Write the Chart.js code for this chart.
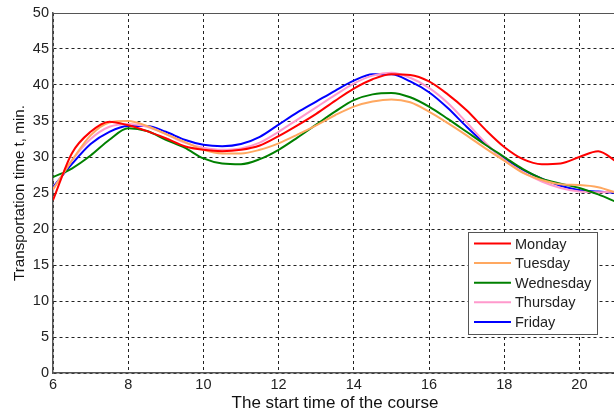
<!DOCTYPE html>
<html>
<head>
<meta charset="utf-8">
<script src="https://cdn.jsdelivr.net/npm/chart.js@4/dist/chart.umd.min.js"></script>
<style>
  html, body { margin: 0; padding: 0; background: #fff; overflow: hidden; }
  #wrap { width: 617px; height: 414px; }
</style>
</head>
<body>
<div id="wrap"><canvas id="chart"></canvas></div>
<script>
// start time of the course (hours)
const hours = [6, 6.5, 7, 7.5, 8, 8.5, 9, 9.5, 10, 10.5, 11, 11.5, 12, 12.5, 13, 13.5,
  14, 14.5, 15, 15.5, 16, 16.5, 17, 17.5, 18, 18.5, 19, 19.5, 20, 20.5, 21];

// transportation time, min.
const monday = [24.0, 30.5, 33.5, 34.9, 34.4, 33.6, 32.6, 31.5, 31.0, 30.8, 31.0, 31.6, 32.9, 34.4, 36.0, 37.8,
  39.5, 40.8, 41.5, 41.4, 40.5, 38.7, 36.5, 33.8, 31.4, 29.7, 29.0, 29.1, 30.0, 30.8, 29.3];
const tuesday = [25.5, 29.5, 33.0, 34.8, 35.0, 34.3, 33.2, 32.1, 31.0, 30.5, 30.5, 31.0, 31.9, 33.1, 34.4, 35.8,
  37.0, 37.7, 38.0, 37.6, 36.3, 34.7, 33.0, 31.2, 29.5, 27.8, 26.8, 26.2, 26.1, 25.8, 25.0];
const wednesday = [27.2, 28.4, 30.2, 32.4, 34.0, 33.6, 32.4, 31.3, 29.8, 29.1, 29.0, 29.7, 31.0, 32.7, 34.5, 36.3,
  37.9, 38.7, 38.9, 38.3, 37.0, 35.3, 33.5, 31.7, 30.0, 28.3, 27.0, 26.3, 25.7, 24.8, 23.7];
const thursday = [25.5, 29.5, 32.5, 34.2, 34.6, 34.2, 33.2, 32.0, 31.3, 31.0, 31.2, 32.0, 33.5, 35.2, 36.9, 38.6,
  40.2, 41.3, 41.7, 41.0, 39.6, 37.5, 34.8, 32.0, 29.6, 27.9, 26.6, 25.7, 25.2, 25.1, 25.2];
const friday = [25.8, 29.0, 31.8, 33.5, 34.3, 34.3, 33.5, 32.4, 31.7, 31.5, 31.8, 32.8, 34.5, 36.2, 37.7, 39.2,
  40.6, 41.5, 41.5, 40.5, 39.0, 36.8, 34.2, 31.8, 29.8, 28.2, 27.0, 26.0, 25.4, 25.2, 25.0];

const xTicks = [6, 8, 10, 12, 14, 16, 18, 20];
const yTicks = [0, 5, 10, 15, 20, 25, 30, 35, 40, 45, 50];

const FONT = "'Liberation Sans', Arial, sans-serif";

function series(label, values, color) {
  return {
    label: label,
    data: hours.map((h, i) => ({ x: h, y: values[i] })),
    borderColor: color,
    backgroundColor: color,
    borderWidth: 2,
    pointRadius: 0,
    fill: false,
    cubicInterpolationMode: 'monotone'
  };
}

// legend box inside the plot, bottom right (MATLAB style)
const boxLegend = {
  id: 'boxLegend',
  afterDraw(chart) {
    const ctx = chart.ctx;
    const x0 = 468, y0 = 232, w = 129, h = 102;
    ctx.save();
    ctx.fillStyle = '#fff';
    ctx.fillRect(x0, y0, w, h);
    ctx.strokeStyle = '#555';
    ctx.lineWidth = 1;
    ctx.strokeRect(x0 + 0.5, y0 + 0.5, w, h);
    ctx.font = '14.5px ' + FONT;
    ctx.textBaseline = 'middle';
    ctx.fillStyle = '#222';
    chart.data.datasets.forEach((ds, i) => {
      const y = y0 + 11.5 + i * 19.6;
      ctx.strokeStyle = ds.borderColor;
      ctx.lineWidth = 2;
      ctx.beginPath();
      ctx.moveTo(x0 + 6, y);
      ctx.lineTo(x0 + 43, y);
      ctx.stroke();
      ctx.fillText(ds.label, x0 + 47, y + 1);
    });
    ctx.restore();
  }
};

// top border of the axes box
const topBorder = {
  id: 'topBorder',
  afterDatasetsDraw(chart) {
    const { ctx, chartArea } = chart;
    ctx.save();
    ctx.strokeStyle = '#555';
    ctx.lineWidth = 1;
    ctx.beginPath();
    ctx.moveTo(chartArea.left, chartArea.top + 0.5);
    ctx.lineTo(chartArea.right, chartArea.top + 0.5);
    ctx.stroke();
    ctx.restore();
  }
};

const ctx = document.getElementById('chart').getContext('2d');
new Chart(ctx, {
  type: 'line',
  data: {
    datasets: [
      series('Monday', monday, '#ff0000'),
      series('Tuesday', tuesday, '#ffa860'),
      series('Wednesday', wednesday, '#008000'),
      series('Thursday', thursday, '#ff99cc'),
      series('Friday', friday, '#0000ff')
    ]
  },
  options: {
    responsive: true,
    maintainAspectRatio: false,
    animation: false,
    layout: { padding: { top: 13, right: 0, left: 0, bottom: 0 } },
    plugins: {
      legend: { display: false },
      tooltip: { enabled: false }
    },
    scales: {
      x: {
        type: 'linear',
        min: 6,
        max: 21,
        afterBuildTicks: (s) => { s.ticks = xTicks.map(v => ({ value: v })); },
        afterFit: (s) => { s.height = 41; },
        grid: {
          color: '#222',
          lineWidth: 1,
          drawTicks: false
        },
        border: { color: '#555', width: 1.5, dash: [3, 3] },
        ticks: {
          padding: 3,
          color: '#222',
          maxRotation: 0,
          font: { family: FONT, size: 14.5 }
        },
        title: {
          display: true,
          text: 'The start time of the course',
          color: '#111',
          padding: { top: 0, bottom: 0 },
          font: { family: FONT, size: 17 }
        }
      },
      y: {
        min: 0,
        max: 50,
        afterBuildTicks: (s) => { s.ticks = yTicks.map(v => ({ value: v })); },
        afterFit: (s) => { s.width = 53; },
        grid: {
          color: '#222',
          lineWidth: 1,
          drawTicks: false
        },
        border: { color: '#555', width: 1.5, dash: [3, 3] },
        ticks: {
          padding: 4,
          color: '#222',
          font: { family: FONT, size: 14.5 }
        },
        title: {
          display: true,
          text: 'Transportation time t, min.',
          color: '#111',
          padding: { top: 11, bottom: 0 },
          font: { family: FONT, size: 15.2 }
        }
      }
    }
  },
  plugins: [topBorder, boxLegend]
});
</script>
</body>
</html>
